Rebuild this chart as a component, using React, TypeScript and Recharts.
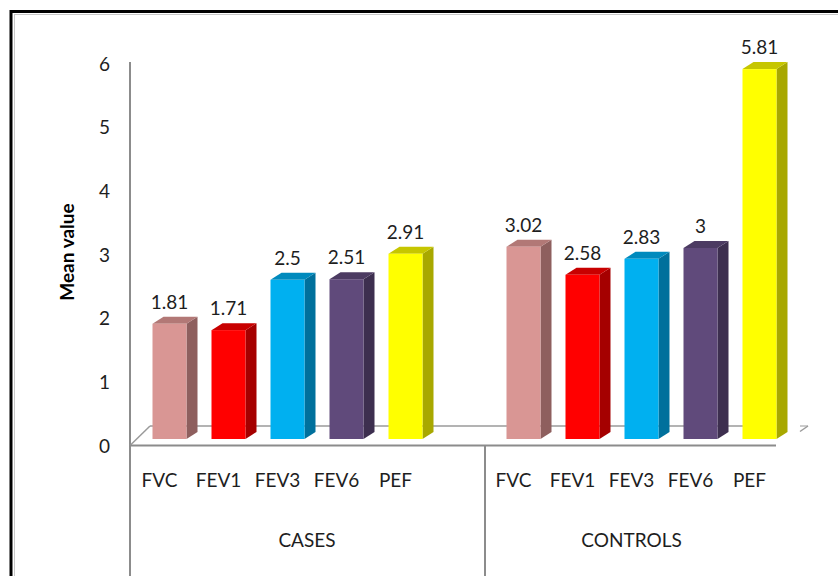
import React from 'react';
import { BarChart, Bar, XAxis, YAxis, LabelList } from 'recharts';

// ---- data ----
const categories = ['FVC', 'FEV1', 'FEV3', 'FEV6', 'PEF'];
const groups = ['CASES', 'CONTROLS'];
const casesValues = [1.81, 1.71, 2.5, 2.51, 2.91];
const controlsValues = [3.02, 2.58, 2.83, 3, 5.81];
const yTicks = [0, 1, 2, 3, 4, 5, 6];

// ---- styles ----
const palette = [
  { front: '#D99694', side: '#8E5F5E', top: '#B27876' },
  { front: '#FF0000', side: '#A50000', top: '#C80000' },
  { front: '#00B0F0', side: '#00709C', top: '#008ABD' },
  { front: '#604A7B', side: '#3D2F4F', top: '#4C3B62' },
  { front: '#FFFF00', side: '#A8A800', top: '#C6C600' },
];

const rows = [
  ...categories.map((c, i) => ({ cat: c, grp: groups[0], value: casesValues[i], colorIdx: i })),
  { cat: '', grp: groups[0], value: null as number | null, colorIdx: -1 },
  ...categories.map((c, i) => ({ cat: c, grp: groups[1], value: controlsValues[i], colorIdx: i })),
];

// ---- layout ----
const W = 838;
const H = 576;
const PLOT_LEFT = 130;
const PLOT_RIGHT = 779;
const PLOT_TOP = 57;
const PLOT_BOTTOM = 439;
const BAND = (PLOT_RIGHT - PLOT_LEFT) / rows.length;
const SHIFT = 9.5; // 3D depth shift of the bars
const DX = 11;
const DY = 7;
const FLOOR_FRONT = 445.5;
const FLOOR_BACK = 426;
const FONT = 'Lato, "Open Sans", sans-serif';
const TEXT = '#1e1e1e';
const AXIS = '#8c8c8c';

const Bar3D = (props: any) => {
  const { x, y, width, height, payload } = props;
  if (payload == null || payload.value == null || !height) return null;
  const c = palette[payload.colorIdx];
  const fx = x + SHIFT;
  const r = fx + width;
  const b = y + height;
  return (
    <g>
      <polygon points={`${r},${y} ${r + DX},${y - DY} ${r + DX},${b - DY} ${r},${b}`} fill={c.side} />
      <polygon points={`${fx},${y} ${fx + DX},${y - DY} ${r + DX},${y - DY} ${r},${y}`} fill={c.top} />
      <rect x={fx} y={y} width={width} height={height} fill={c.front} />
    </g>
  );
};

const ValueLabel = (props: any) => {
  const { x, y, width, value } = props;
  if (value == null) return null;
  return (
    <text x={x + width / 2 + SHIFT} y={y - 15} textAnchor="middle" fontFamily={FONT} fontSize={19} fill={TEXT}>
      {value}
    </text>
  );
};

const YTick = (props: any) => {
  const { y, payload } = props;
  return (
    <text x={110} y={y + 6} textAnchor="end" dominantBaseline="central" fontFamily={FONT} fontSize={19} fill={TEXT}>
      {payload.value}
    </text>
  );
};

const CatTick = (props: any) => {
  const { x, payload } = props;
  return (
    <text x={x} y={487} textAnchor="middle" fontFamily={FONT} fontSize={19} fill={TEXT}>
      {payload.value}
    </text>
  );
};

const GroupTick = (props: any) => {
  const { x, index } = props;
  const row = rows[index];
  if (!row) return null;
  if (index > 0 && rows[index - 1].grp === row.grp) return null;
  const count = rows.filter((r) => r.grp === row.grp).length;
  const start = x - BAND / 2;
  const cx = start + (count * BAND) / 2;
  return (
    <g>
      {index > 0 && <line x1={start + 1} x2={start + 1} y1={FLOOR_FRONT} y2={H} stroke={AXIS} strokeWidth={2} />}
      <text x={cx} y={547} textAnchor="middle" fontFamily={FONT} fontSize={19} fill={TEXT}>
        {row.grp}
      </text>
    </g>
  );
};

const Background = () => (
  <svg width={W} height={H} style={{ position: 'absolute', left: 0, top: 0 }}>
    <rect x={0} y={0} width={W} height={H} fill="#ffffff" />
    <rect x={11} y={11.5} width={W + 20} height={H + 20} fill="none" stroke="#000" strokeWidth={3} />
    <rect x={14.5} y={14.5} width={W + 20} height={H + 20} fill="none" stroke="#c8c8c8" strokeWidth={1} />
    <line x1={PLOT_LEFT} x2={PLOT_LEFT} y1={62} y2={H} stroke={AXIS} strokeWidth={2} />
    <line x1={PLOT_LEFT + 20} x2={770} y1={FLOOR_BACK} y2={FLOOR_BACK} stroke="#9a9a9a" strokeWidth={1.5} />
    <line x1={PLOT_LEFT} x2={PLOT_LEFT + 20} y1={FLOOR_FRONT} y2={FLOOR_BACK} stroke="#9a9a9a" strokeWidth={1.5} />
    <line x1={PLOT_LEFT} x2={776} y1={FLOOR_FRONT} y2={FLOOR_FRONT} stroke={AXIS} strokeWidth={2} />
    <line x1={800} x2={808} y1={431.5} y2={426} stroke="#9a9a9a" strokeWidth={1.5} />
    <line x1={800} x2={808} y1={426} y2={426} stroke="#9a9a9a" strokeWidth={1} />
  </svg>
);

export default function App() {
  return (
    <div style={{ position: 'absolute', left: 0, top: 0, width: W, height: H }}>
      <Background />
      <div style={{ position: 'absolute', left: 0, top: 0 }}>
        <BarChart
          width={W}
          height={H}
          data={rows}
          margin={{ top: PLOT_TOP, right: W - PLOT_RIGHT, bottom: H - PLOT_BOTTOM - 100, left: 0 }}
          barCategoryGap={0}
        >
          <XAxis
            xAxisId={0}
            dataKey="cat"
            height={40}
            interval={0}
            axisLine={false}
            tickLine={false}
            tick={<CatTick />}
          />
          <XAxis
            xAxisId="grp"
            dataKey="grp"
            height={60}
            interval={0}
            axisLine={false}
            tickLine={false}
            allowDuplicatedCategory={true}
            tick={<GroupTick />}
          />
          <YAxis
            type="number"
            domain={[0, 6]}
            ticks={yTicks}
            width={PLOT_LEFT}
            axisLine={false}
            tickLine={false}
            interval={0}
            tick={<YTick />}
            label={{
              value: 'Mean value',
              angle: -90,
              position: 'center',
              dx: 2,
              dy: 4,
              fontFamily: FONT,
              fontSize: 19,
              fontWeight: 'bold',
              fill: '#000',
            }}
          />
          <Bar dataKey="value" xAxisId={0} barSize={34} shape={<Bar3D />} isAnimationActive={false}>
            <LabelList dataKey="value" content={<ValueLabel />} />
          </Bar>
        </BarChart>
      </div>
    </div>
  );
}
